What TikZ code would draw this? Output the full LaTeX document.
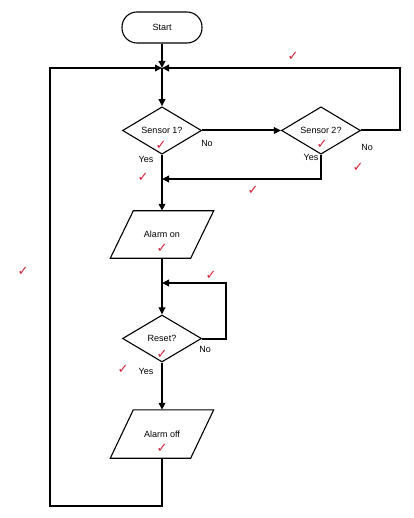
\documentclass[tikz,border=0pt]{standalone}
\usepackage{fontspec}
\setmainfont{Liberation Sans}
\newfontfamily\symfont{DejaVu Sans}
\usetikzlibrary{shapes.geometric,arrows.meta}
\definecolor{chk}{RGB}{212,32,52}
\begin{document}
\begin{tikzpicture}[x=1pt,y=-1pt,
  txt/.style={font=\fontsize{9}{10}\selectfont},
  term/.style={txt, draw, line width=1.1pt, rectangle, rounded corners=15pt, minimum width=80pt, minimum height=31pt},
  dec/.style={txt, draw, line width=1.1pt, diamond, inner sep=0pt, minimum width=79pt, minimum height=47pt},
  io/.style={txt, inner sep=0pt, minimum width=103pt, minimum height=47pt},
  para/.style={line width=1.1pt, line join=miter},
  conn/.style={line width=2pt, -{Triangle[length=7pt,width=6.5pt]}},
  lbl/.style={txt, inner sep=0pt},
  tick/.style={text=chk, font=\symfont\fontsize{13}{13}\selectfont, inner sep=0pt}]
\useasboundingbox (0,0) rectangle (413,518);

% nodes
\node[term] (start) at (162,27.5) {Start};
\coordinate (j1) at (162,68);
\node[dec] (s1) at (162,130.5) {Sensor 1?};
\node[dec] (s2) at (321,130.5) {Sensor 2?};
\coordinate (j2) at (162,179);
\node[io] (on) at (162,234.5) {Alarm on};
\draw[para] ([xshift=23pt]on.north west) -- (on.north east) -- ([xshift=-23pt]on.south east) -- (on.south west) -- cycle;
\coordinate (j3) at (162,283);
\coordinate (rr) at (226,283);
\node[dec] (rs) at (162,338.5) {Reset?};
\node[io, minimum height=48pt] (off) at (162,434) {Alarm off};
\draw[para] ([xshift=23pt]off.north west) -- (off.north east) -- ([xshift=-23pt]off.south east) -- (off.south west) -- cycle;
\coordinate (bl) at (50,506);
\coordinate (rc) at (400,130.5);

% connectors
\draw[conn] (start.south) -- (j1);
\draw[conn] (j1) -- (s1.north);
\draw[conn] (s1.east) -- (s2.west);
\draw[conn] (s2.east) -- (rc) |- (j1);
\draw[conn] (s2.south) |- (j2);
\draw[conn] (s1.south) -- (on.north);
\draw[conn] (on.south) -- (rs.north);
\draw[conn] (rs.east) -| (rr) -- (j3);
\draw[conn] (rs.south) -- (off.north);
\draw[conn] (off.south) |- (bl) |- (j1);

% labels
\node[lbl] (l1) at (207,143) {No};
\node[lbl] (l2) at (146,159) {Yes};
\node[lbl] (l3) at (367,147) {No};
\node[lbl] (l4) at (311,157) {Yes};
\node[lbl] (l5) at (205,349) {No};
\node[lbl] (l6) at (146,371) {Yes};

% ticks
\node[tick] (t1) at (293,56) {✓};
\node[tick] (t2) at (161,145) {✓};
\node[tick] (t3) at (322,144) {✓};
\node[tick] (t4) at (143,177) {✓};
\node[tick] (t5) at (358,167) {✓};
\node[tick] (t6) at (253,190) {✓};
\node[tick] (t7) at (23,271) {✓};
\node[tick] (t8) at (211,275) {✓};
\node[tick] (t9) at (162,248) {✓};
\node[tick] (t10) at (162,354) {✓};
\node[tick] (t11) at (123,369) {✓};
\node[tick] (t12) at (162,448) {✓};
\end{tikzpicture}
\end{document}
